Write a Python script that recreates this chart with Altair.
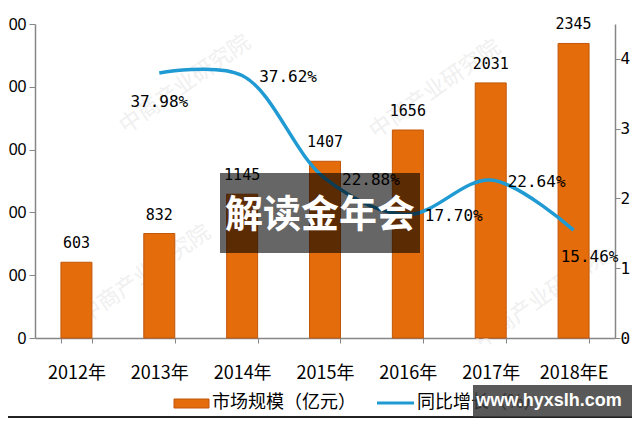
import altair as alt
import pandas as pd

years = ["2012年", "2013年", "2014年", "2015年", "2016年", "2017年", "2018年E"]
market = [603, 832, 1145, 1407, 1656, 2031, 2345]
growth = [None, 37.98, 37.62, 22.88, 17.70, 22.64, 15.46]
growth_labels = ["", "37.98%", "37.62%", "22.88%", "17.70%", "22.64%", "15.46%"]
left_ticks = [0, 500, 1000, 1500, 2000, 2500]
right_ticks = [0, 5, 10, 15, 20, 25, 30, 35, 40, 45]
legend_names = ["市场规模（亿元）", "同比增长（%）"]
overlay_title = "解读金年会"
site = "www.hyxslh.com"
watermark = "中商产业研究院"

df = pd.DataFrame({"year": years, "market": market, "growth": growth, "glabel": growth_labels})
one = pd.DataFrame({"k": [0]})

ORANGE = "#E46C0A"
BLUE = "#1F9AD3"
AXIS = "#868686"
MONO = "DejaVu Sans Mono"
CJK = "Noto Sans CJK SC"

x_enc = alt.X(
    "year:N", sort=years,
    scale=alt.Scale(paddingInner=0.626, paddingOuter=0.313),
    axis=alt.Axis(title=None, labelAngle=0, labelFont=CJK, labelFontSize=18,
                  labelColor="#000", domainColor=AXIS, tickColor=AXIS,
                  tickSize=5, tickBand="extent", labelPadding=21, domainWidth=1.5),
)

# the reference picture is cropped at both sides: only the visible part of each tick label is kept
y_left = alt.Y(
    "market:Q", scale=alt.Scale(domain=[0, 2500], nice=False),
    axis=alt.Axis(title=None, values=left_ticks, grid=False, labelFont="Liberation Sans",
                  labelFontSize=16, labelColor="#000", domainColor=AXIS, tickColor=AXIS,
                  tickSize=6, labelPadding=3, orient="left", domainWidth=1.5,
                  labelExpr="datum.value == 0 ? '0' : slice(datum.label, -2)"),
)

ob = alt.Chart(one)
wm_pos = [(150, 60), (400, 65), (110, 250), (505, 275)]
wm_layers = [
    ob.mark_text(text=watermark, font=CJK, fontSize=22, color="#f0f0f0",
                 angle=325, align="center", baseline="middle").encode(x=alt.value(px), y=alt.value(py))
    for px, py in wm_pos
]

base = alt.Chart(df)

bars = base.mark_bar(color=ORANGE, stroke="#C0570C", strokeWidth=1).encode(x=x_enc, y=y_left)
bar_text = base.mark_text(font=MONO, fontSize=15, color="#000", baseline="alphabetic", dy=-14).encode(
    x=alt.X("year:N", sort=years), y=alt.Y("market:Q"), text=alt.Text("market:Q"))
left_group = alt.layer(bars, bar_text)

y_right = alt.Y(
    "growth:Q", scale=alt.Scale(domain=[0, 45], nice=False),
    axis=alt.Axis(title=None, values=right_ticks, grid=False, labelFont=MONO,
                  labelFontSize=16, labelColor="#000", domainColor=AXIS, tickColor=AXIS,
                  tickSize=5, labelPadding=0, orient="right", domainWidth=1.5,
                  labelExpr="slice(datum.label, 0, 1)"),
)

rbase = alt.Chart(df).transform_filter("isValid(datum.growth)")
line = rbase.mark_line(color=BLUE, strokeWidth=3.5, interpolate="catmull-rom").encode(
    x=alt.X("year:N", sort=years), y=y_right)
yy = alt.Y("growth:Q")
xx = alt.X("year:N", sort=years)
pct_first = rbase.transform_filter("datum.year == '2013年'").mark_text(
    font=MONO, fontSize=16, color="#000", baseline="alphabetic", align="center", dy=34
).encode(x=xx, y=yy, text="glabel:N")
pct_mid = rbase.transform_filter("datum.year != '2013年' && datum.year != '2018年E'").mark_text(
    font=MONO, fontSize=16, color="#000", baseline="alphabetic", align="left", dx=17, dy=7
).encode(x=xx, y=yy, text="glabel:N")
pct_last = rbase.transform_filter("datum.year == '2018年E'").mark_text(
    font=MONO, fontSize=16, color="#000", baseline="alphabetic", align="center", dx=16, dy=32
).encode(x=xx, y=yy, text="glabel:N")
right_group = alt.layer(line, pct_first, pct_mid, pct_last)

leg_rect = ob.mark_rect(color=ORANGE, stroke="#C0570C", strokeWidth=1).encode(
    x=alt.value(139), x2=alt.value(174), y=alt.value(375), y2=alt.value(384))
leg_t1 = ob.mark_text(text=legend_names[0], font=CJK, fontSize=18, color="#000",
                      align="left", baseline="middle").encode(x=alt.value(177), y=alt.value(379))
leg_line = ob.mark_rule(color=BLUE, strokeWidth=3).encode(
    x=alt.value(342), x2=alt.value(379), y=alt.value(379))
leg_t2 = ob.mark_text(text=legend_names[1], font=CJK, fontSize=18, color="#000",
                      align="left", baseline="middle").encode(x=alt.value(382), y=alt.value(379))

bottom_line = ob.mark_rule(color="#222", strokeWidth=2).encode(
    x=alt.value(-27), x2=alt.value(600), y=alt.value(393))

box = ob.mark_rect(color="#000", opacity=0.6).encode(
    x=alt.value(185), x2=alt.value(385), y=alt.value(149), y2=alt.value(229))
box_text = ob.mark_text(text=overlay_title, font=CJK, fontSize=38, fontWeight="bold",
                        color="#fff", align="center", baseline="middle").encode(
    x=alt.value(285), y=alt.value(192))

site_box = ob.mark_rect(color="#3c3c3c", opacity=0.85).encode(
    x=alt.value(438), x2=alt.value(597), y=alt.value(361), y2=alt.value(393))
site_text = ob.mark_text(text=site, font="Liberation Sans", fontSize=18, fontWeight="bold",
                         color="#fff", align="center", baseline="middle").encode(
    x=alt.value(514), y=alt.value(377))

chart = alt.layer(
    *wm_layers, left_group, right_group, leg_rect, leg_t1, leg_line, leg_t2, bottom_line,
    box, box_text, site_box, site_text,
).resolve_scale(y="independent").properties(
    width=580, height=314,
    padding={"left": 27, "top": 16, "right": 17, "bottom": 81},
    autosize=alt.AutoSizeParams(type="none"),
    background="#ffffff",
).configure_view(stroke=None)

chart.save("out.html", embed_options={"renderer": "svg", "actions": False})
